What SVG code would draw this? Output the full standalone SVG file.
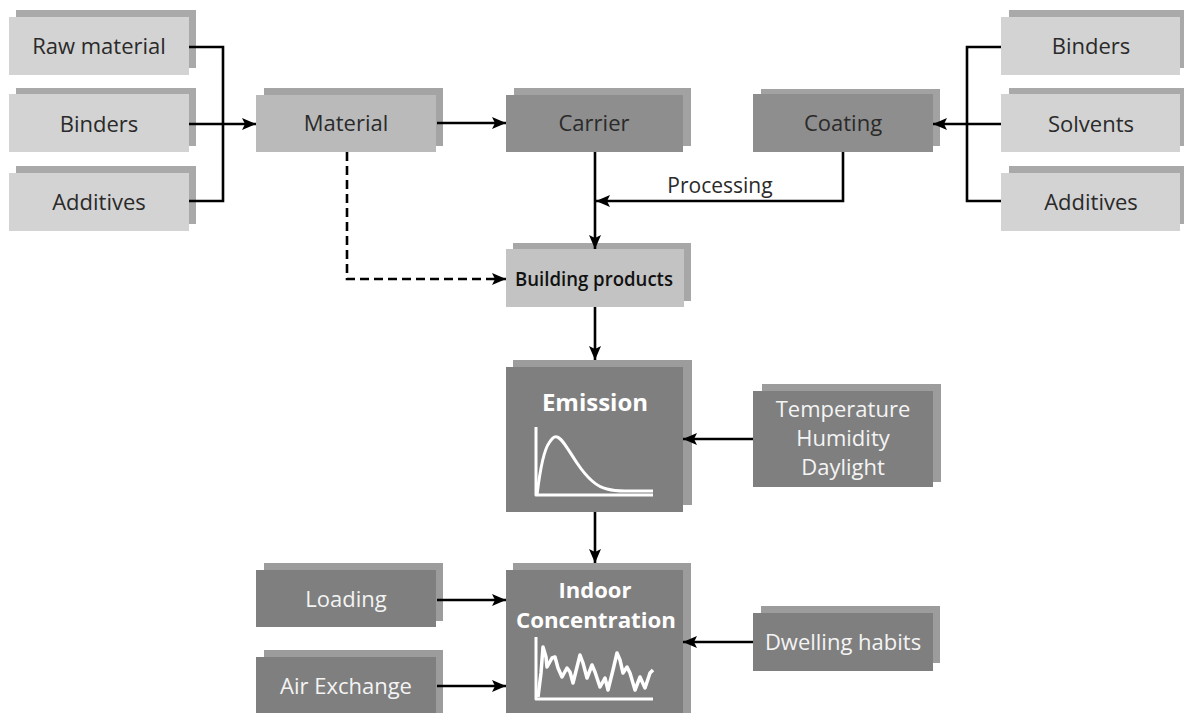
<svg xmlns="http://www.w3.org/2000/svg" width="1184" height="713" viewBox="0 0 1184 713">
<defs>
<marker id="ah" viewBox="0 0 14 12" refX="14" refY="6" markerWidth="14" markerHeight="12" markerUnits="userSpaceOnUse" orient="auto">
<path d="M0,0 L14,6 L0,12 L3,6 Z" fill="#000"/>
</marker>
<style>
.lt .f{fill:#d3d3d3}.lt .b{fill:#a9a9a9}
.md .f{fill:#bababa}.md .b{fill:#a4a4a4}
.bp .f{fill:#c3c3c3}.bp .b{fill:#a7a7a7}
.dk1 .f{fill:#8e8e8e}.dk1 .b{fill:#a2a2a2}
.dk .f{fill:#7f7f7f}.dk .b{fill:#9c9c9c}
text{font-family:"Open Sans","Noto Sans","Liberation Sans",sans-serif;font-size:22px;text-anchor:middle}
.tb{fill:#2a2a2a}
.tw{fill:#f4f4f4}
.bold{font-weight:700;font-size:22px;fill:#fff}
.ln{fill:none;stroke:#000;stroke-width:2.6}
.dash{stroke-dasharray:9 5}
.chart{fill:none;stroke:#fff;stroke-width:3;stroke-linejoin:round}
</style>
</defs>
<rect width="1184" height="713" fill="#fff"/>

<g id="raw-material" class="lt"><rect class="b" x="16" y="10" width="180" height="58"/><rect class="f" x="9" y="17" width="180" height="58"/><text class="tb" x="99" y="54">Raw material</text></g>
<g id="binders-left" class="lt"><rect class="b" x="16" y="88" width="180" height="58"/><rect class="f" x="9" y="94" width="180" height="58"/><text class="tb" x="99" y="132">Binders</text></g>
<g id="additives-left" class="lt"><rect class="b" x="16" y="166" width="180" height="58"/><rect class="f" x="9" y="173" width="180" height="58"/><text class="tb" x="99" y="210">Additives</text></g>

<g id="material" class="md"><rect class="b" x="264" y="88" width="179" height="58"/><rect class="f" x="256" y="95" width="180" height="57"/><text class="tb" x="346" y="131">Material</text></g>
<g id="carrier" class="dk1"><rect class="b" x="514" y="88" width="177" height="58"/><rect class="f" x="506" y="95" width="177" height="57"/><text class="tb" x="594" y="131">Carrier</text></g>
<g id="coating" class="dk1"><rect class="b" x="761" y="89" width="179" height="57"/><rect class="f" x="753" y="94" width="180" height="58"/><text class="tb" x="843" y="131">Coating</text></g>

<g id="binders-right" class="lt"><rect class="b" x="1009" y="10" width="180" height="58"/><rect class="f" x="1001" y="17" width="179" height="58"/><text class="tb" x="1091" y="54">Binders</text></g>
<g id="solvents" class="lt"><rect class="b" x="1009" y="88" width="180" height="58"/><rect class="f" x="1001" y="94" width="179" height="58"/><text class="tb" x="1091" y="132">Solvents</text></g>
<g id="additives-right" class="lt"><rect class="b" x="1009" y="166" width="180" height="58"/><rect class="f" x="1001" y="173" width="179" height="58"/><text class="tb" x="1091" y="210">Additives</text></g>

<g id="building-products" class="bp"><rect class="b" x="513" y="243" width="178" height="58"/><rect class="f" x="506" y="249" width="178" height="58"/><text class="tb" x="594" y="286" style="font-size:19px;font-weight:600;fill:#111" textLength="158" lengthAdjust="spacingAndGlyphs">Building products</text></g>

<g id="emission" class="dk"><rect class="b" x="513" y="360" width="179" height="145"/><rect class="f" x="506" y="367" width="177" height="145"/><text class="bold" x="595" y="411" style="font-size:24px">Emission</text>
<path class="chart" d="M536,427 V495 H653"/>
<path class="chart" d="M537,495 C540,470 544,450 549,443 C552,438 555,436 557,437 C562,438 567,448 577,463 C587,478 597,487 607,489 C614,491 620,491 625,491 L653,491"/></g>

<g id="conditions" class="dk"><rect class="b" x="762" y="384" width="179" height="98"/><rect class="f" x="753" y="391" width="180" height="96"/><text class="tw" x="843" y="417">Temperature</text><text class="tw" x="843" y="446">Humidity</text><text class="tw" x="843" y="475">Daylight</text></g>

<g id="loading" class="dk"><rect class="b" x="264" y="563" width="179" height="58"/><rect class="f" x="256" y="570" width="180" height="57"/><text class="tw" x="346" y="607">Loading</text></g>
<g id="air-exchange" class="dk"><rect class="b" x="264" y="650" width="179" height="63"/><rect class="f" x="256" y="657" width="180" height="57"/><text class="tw" x="346" y="694">Air Exchange</text></g>

<g id="indoor-concentration" class="dk"><rect class="b" x="513" y="563" width="178" height="150"/><rect class="f" x="506" y="570" width="177" height="150"/><text class="bold" x="595" y="598">Indoor</text><text class="bold" x="596" y="628" textLength="160" lengthAdjust="spacingAndGlyphs">Concentration</text>
<path class="chart" d="M536,637 V699 H653"/>
<polyline class="chart" style="stroke-width:3.5" points="538,697 541,673 543,647 546,657 547,667 552,658 555,657 558,668 562,677 567,668 570,672 573,683 577,667 580,655 583,663 587,678 592,665 595,672 600,687 605,678 608,690 613,670 617,653 620,660 623,673 627,667 630,673 635,690 640,677 645,688 650,673 653,670"/></g>

<g id="dwelling-habits" class="dk"><rect class="b" x="761" y="606" width="179" height="57"/><rect class="f" x="753" y="613" width="180" height="58"/><text class="tw" x="843" y="650">Dwelling habits</text></g>

<g id="connectors">
<path class="ln" d="M189,47 H223 V201 H189"/>
<path class="ln" d="M189,124 H256" marker-end="url(#ah)"/>
<path class="ln" d="M437,123 H506" marker-end="url(#ah)"/>
<path class="ln" d="M1001,47 H967 V201 H1001"/>
<path class="ln" d="M1001,124 H933" marker-end="url(#ah)"/>
<path class="ln" d="M595,152 V249" marker-end="url(#ah)"/>
<path class="ln" d="M843,152 V201 H596" marker-end="url(#ah)"/>
<path class="ln dash" d="M347,152 V279 H506" marker-end="url(#ah)"/>
<path class="ln" d="M595,307 V360" marker-end="url(#ah)"/>
<path class="ln" d="M753,439 H683" marker-end="url(#ah)"/>
<path class="ln" d="M595,512 V563" marker-end="url(#ah)"/>
<path class="ln" d="M437,600 H506" marker-end="url(#ah)"/>
<path class="ln" d="M437,686 H506" marker-end="url(#ah)"/>
<path class="ln" d="M753,642 H683" marker-end="url(#ah)"/>
<text class="tb" x="720" y="193" style="font-size:21px">Processing</text>
</g>
</svg>
